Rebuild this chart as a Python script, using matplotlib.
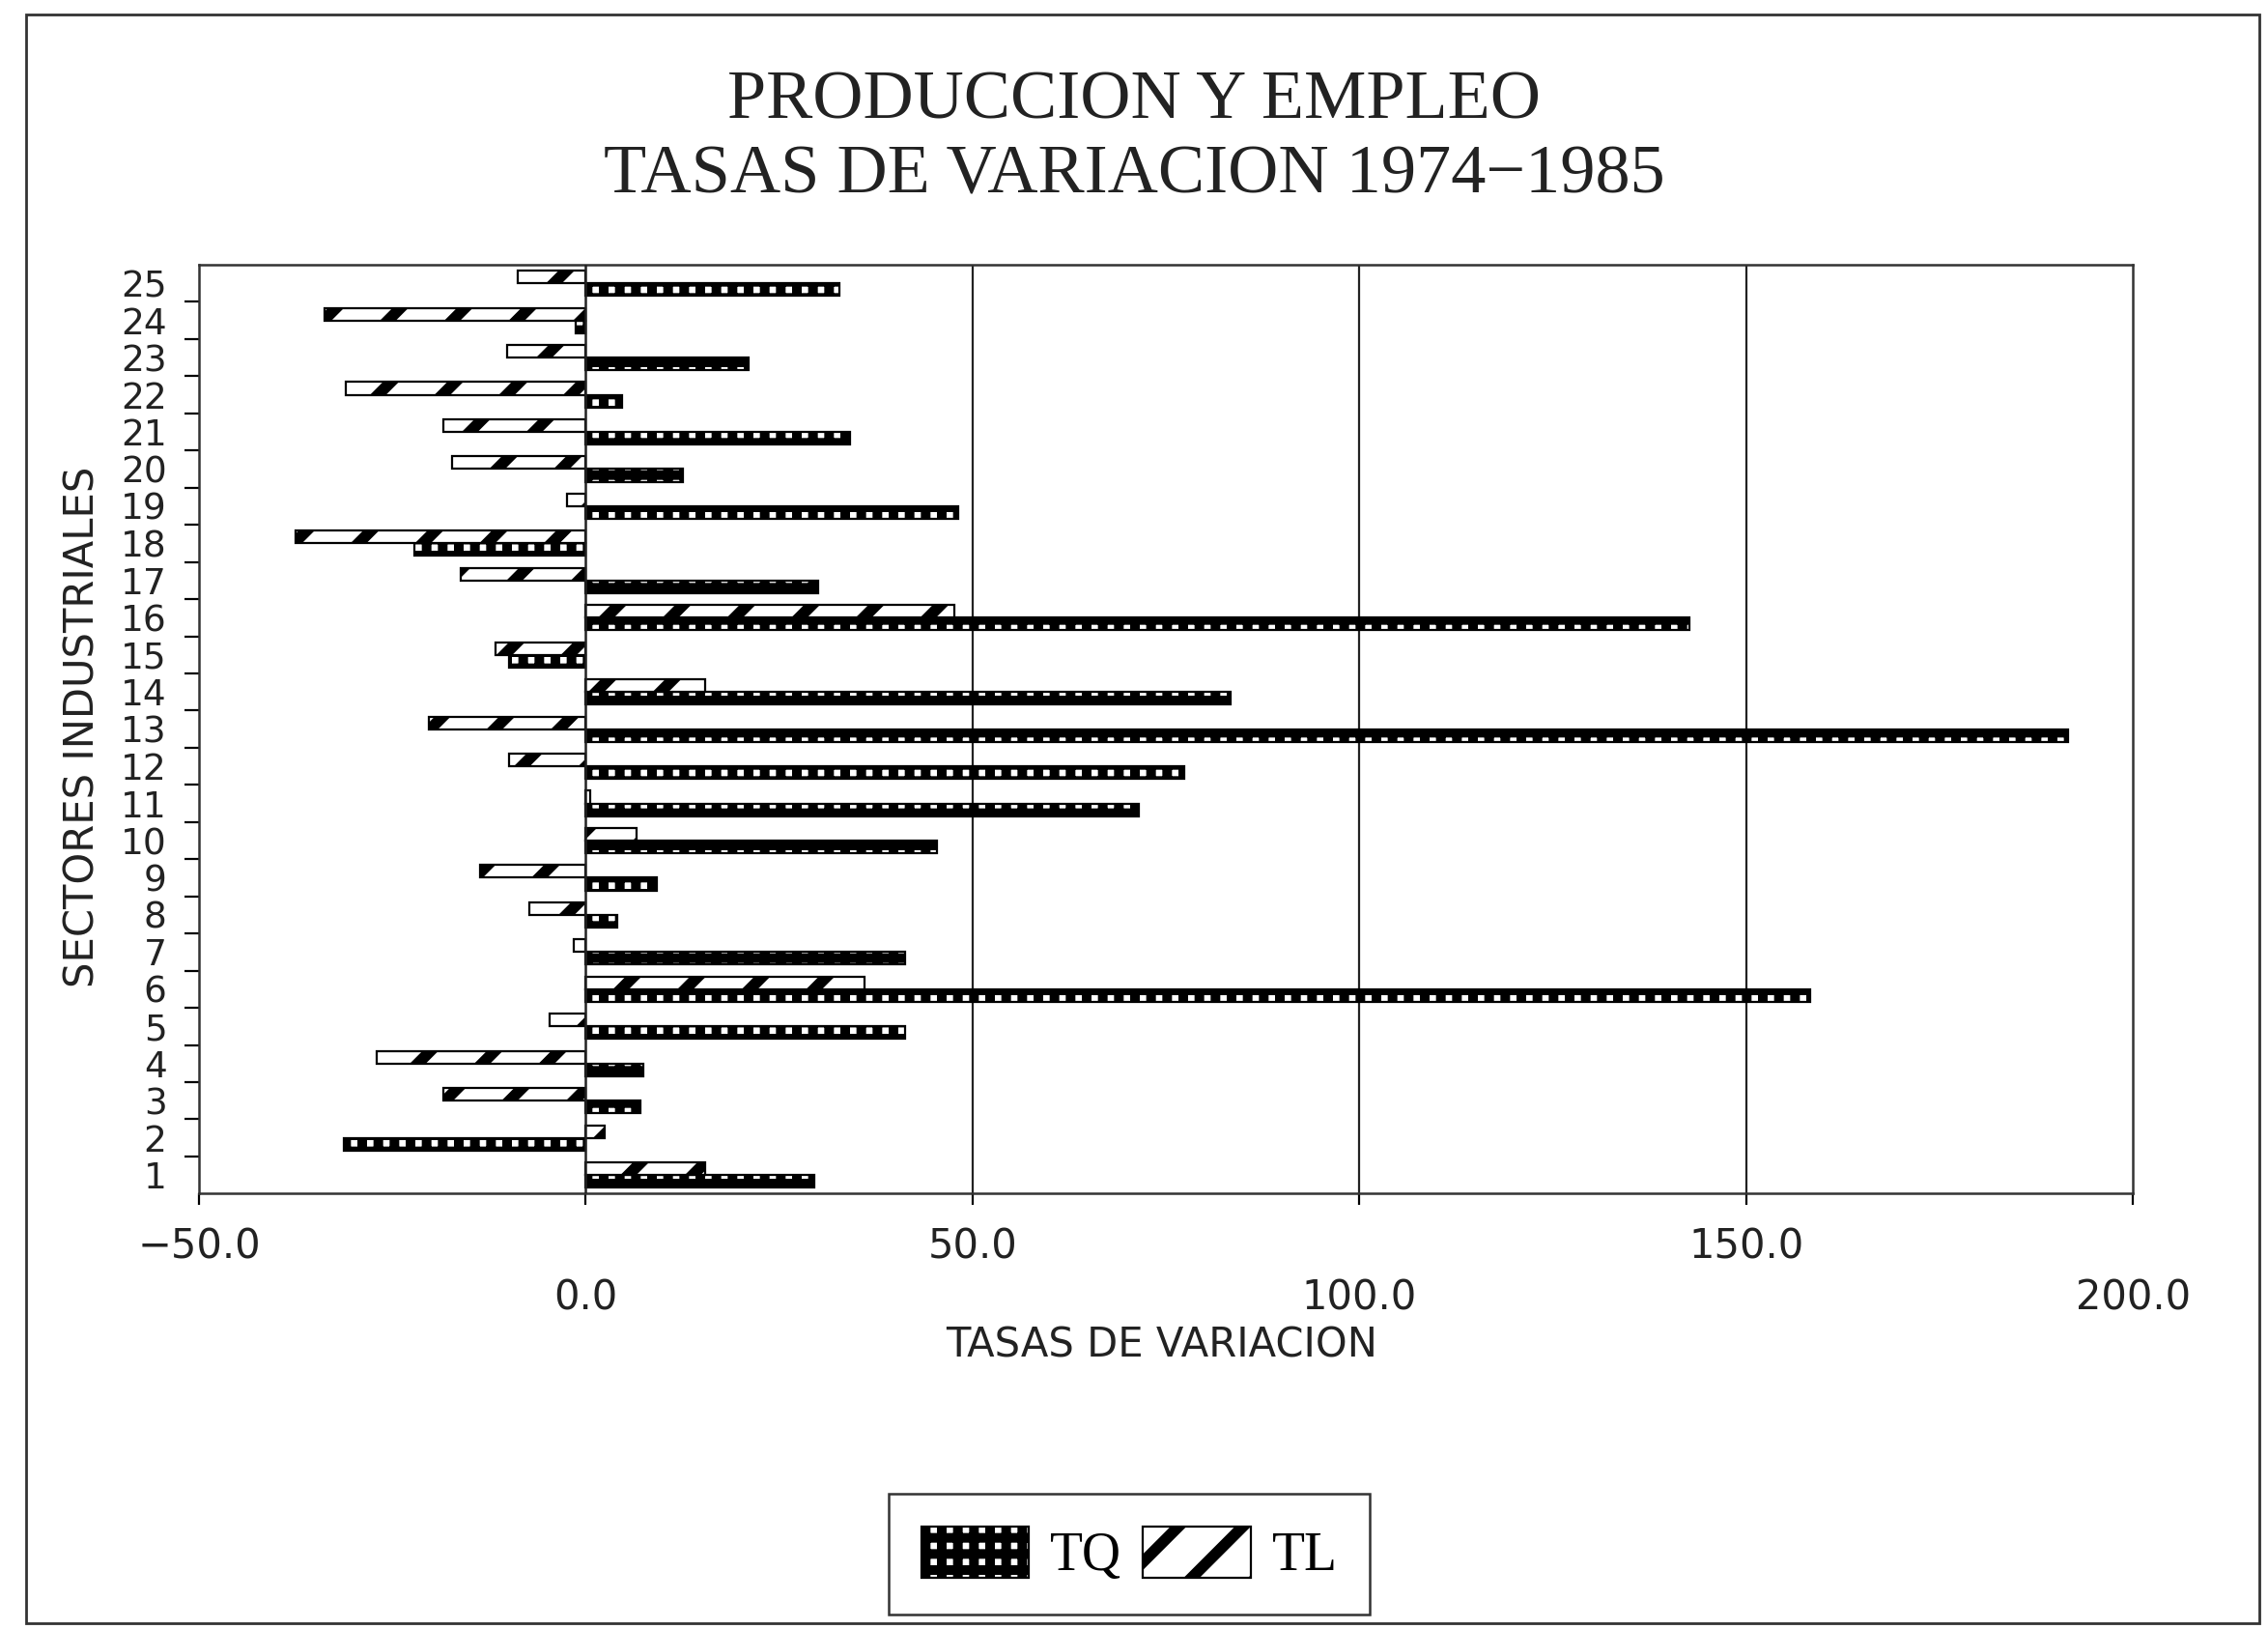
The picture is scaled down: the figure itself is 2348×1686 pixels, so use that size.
import numpy as np
import matplotlib
matplotlib.use("Agg")
import matplotlib.pyplot as plt
from matplotlib.patches import Rectangle

# --- DATA ---
sectors = list(range(1, 26))
tq = [29.5, -31.3, 7.1, 7.5, 41.3, 158.3, 41.3, 4.1, 9.2, 45.4,
      71.5, 77.3, 191.6, 83.3, -9.9, 142.6, 30.0, -22.1, 48.2, 12.6,
      34.1, 4.7, 21.0, -1.3, 32.8]
tl = [15.4, 2.4, -18.4, -27.0, -4.7, 36.0, -1.5, -7.3, -13.7, 6.6,
      0.6, -9.9, -20.3, 15.4, -11.6, 47.7, -16.1, -37.5, -2.4, -17.3,
      -18.4, -31.0, -10.1, -33.8, -8.8]
x_ticks = [-50, 0, 50, 100, 150, 200]
x_ticklabels = ["\u221250.0", "0.0", "50.0", "100.0", "150.0", "200.0"]

SANS = ["Liberation Sans Narrow", "DejaVu Sans"]
SERIF = ["Liberation Serif", "DejaVu Serif"]
TQ_HLW = 3.6
TL_HLW = 4.2

fig = plt.figure(figsize=(11.74, 8.43), dpi=200)
ax = fig.add_axes([0.0877, 0.2673, 0.8528, 0.5702])

y = np.array(sectors, dtype=float)
h = 0.34

with plt.rc_context({"hatch.linewidth": TQ_HLW, "hatch.color": "black"}):
    b_tq = ax.barh(y - h / 2, tq, height=h, color="white", edgecolor="black",
                   linewidth=0.8, hatch="++", label="TQ", zorder=3)
with plt.rc_context({"hatch.linewidth": TL_HLW, "hatch.color": "black"}):
    b_tl = ax.barh(y + h / 2, tl, height=h, color="white", edgecolor="black",
                   linewidth=0.8, hatch="/", label="TL", zorder=3)

for p in b_tq:
    if hasattr(p, "set_hatch_linewidth"):
        p.set_hatch_linewidth(TQ_HLW)
for p in b_tl:
    if hasattr(p, "set_hatch_linewidth"):
        p.set_hatch_linewidth(TL_HLW)

ax.set_xlim(-50, 200)
ax.set_ylim(0.5, 25.5)

# grid lines + zero line
for v in [50, 100, 150]:
    ax.axvline(v, color="#222222", lw=0.8, zorder=1)
ax.axvline(0, color="#222222", lw=0.9, zorder=4)

for s in ax.spines.values():
    s.set_linewidth(0.9)
    s.set_color("#333333")

# x ticks, staggered labels
ax.set_xticks(x_ticks)
ax.set_xticklabels(x_ticklabels, fontsize=15, family=SANS, color="#222222")
ax.tick_params(axis="x", direction="out", length=4.3, width=0.8, pad=8)
for i, t in enumerate(ax.xaxis.get_major_ticks()):
    if i % 2 == 1:
        t.set_pad(27)

# y ticks at boundaries, labels at the centres
ax.set_yticks(np.arange(1.5, 25, 1.0))
ax.set_yticklabels([])
ax.tick_params(axis="y", which="major", direction="out", length=5.4, width=0.8)
ax.set_yticks(y, minor=True)
ax.set_yticklabels([str(s) for s in sectors], minor=True, fontsize=13.5,
                   family=SANS, color="#222222")
ax.tick_params(axis="y", which="minor", length=0, pad=12)

# titles and axis labels
fig.text(0.5, 0.938, "PRODUCCION Y EMPLEO", ha="center", va="center",
         fontsize=26, family=SERIF, color="#222222")
fig.text(0.5, 0.892, "TASAS DE VARIACION 1974\u22121985", ha="center", va="center",
         fontsize=26, family=SERIF, color="#222222")
fig.text(0.512, 0.174, "TASAS DE VARIACION", ha="center", va="center",
         fontsize=15, family=SANS, color="#222222")
fig.text(0.0365, 0.554, "SECTORES INDUSTRIALES", ha="center", va="center",
         rotation=90, fontsize=15, family=SANS, color="#222222")

leg = fig.legend(handles=[b_tq, b_tl], labels=["TQ", "TL"], loc="center",
                 bbox_to_anchor=(0.498, 0.046), ncol=2, frameon=True,
                 fancybox=False, edgecolor="black", handlelength=2.0,
                 handleheight=1.1, handletextpad=0.4, columnspacing=0.4,
                 borderpad=0.6, prop={"family": SERIF, "size": 20})
leg.get_frame().set_linewidth(0.9)
for hd, lw in zip(leg.legend_handles, [TQ_HLW, TL_HLW]):
    if hasattr(hd, "set_hatch_linewidth"):
        hd.set_hatch_linewidth(lw)

# outer frame
fig.patches.append(Rectangle((0.0115, 0.0036), 0.9845, 0.9874, transform=fig.transFigure,
                             fill=False, edgecolor="#333333", linewidth=1.0))

fig.savefig("out.png", dpi=200, facecolor="white")
